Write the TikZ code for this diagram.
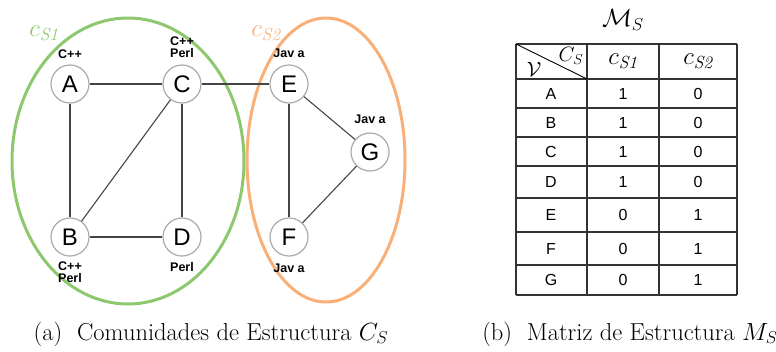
\documentclass[tikz,border=0pt]{standalone}
\usepackage{fontspec}
\newfontfamily\arial{Liberation Sans}
\definecolor{cgreen}{HTML}{8DC86E}
\definecolor{corange}{HTML}{F9B078}
\definecolor{cgrey}{HTML}{AAAAAA}
\definecolor{cedge}{HTML}{444444}
\begin{document}
\begin{tikzpicture}[x=1pt,y=-1pt,
  vert/.style={circle,draw=cgrey,line width=1.2pt,fill=white,minimum size=38pt,inner sep=0pt,font=\arial\fontsize{24}{24}\selectfont},
  lang/.style={font=\arial\bfseries\fontsize{12.5}{12.5}\selectfont,align=center,inner sep=0pt},
  edgeline/.style={draw=cedge,line width=1.1pt},
  tcell/.style={font=\arial\fontsize{16}{16}\selectfont,inner sep=0pt},
  tgrid/.style={draw=black!80,line width=1.3pt},
  captext/.style={font=\fontsize{24.5}{24.5}\selectfont,inner sep=0pt}]
\useasboundingbox (0,0) rectangle (776,351);
% ellipses
\draw[cgreen,line width=3pt] (128,161) ellipse [x radius=116, y radius=143];
\draw[corange,line width=3pt] (326,160) ellipse [x radius=79, y radius=142];
\node[text=cgreen,font=\fontsize{25}{25}\selectfont] (l1) at (44,33) {$c_{\mathit{S1}}$};
\node[text=corange,font=\fontsize{25}{25}\selectfont] (l2) at (266,33) {$c_{\mathit{S2}}$};
% vertices
\node[vert] (A) at (70,84) {A};
\node[vert] (C) at (182,84) {C};
\node[vert] (E) at (289,84) {E};
\node[vert] (G) at (370,152) {G};
\node[vert] (B) at (70,237) {B};
\node[vert] (D) at (182,237) {D};
\node[vert] (F) at (289,237) {F};
\draw[edgeline] (A) -- (C);
\draw[edgeline] (C) -- (E);
\draw[edgeline] (A) -- (B);
\draw[edgeline] (C) -- (B);
\draw[edgeline] (C) -- (D);
\draw[edgeline] (B) -- (D);
\draw[edgeline] (E) -- (F);
\draw[edgeline] (E) -- (G);
\draw[edgeline] (G) -- (F);
% labels
\node[lang] (la) at (70,54) {C++};
\node[lang] (lc) at (182,47) {C++\\Perl};
\node[lang] (le) at (289,53) {Jav a};
\node[lang] (lg) at (370,119) {Jav a};
\node[lang] (lb) at (70,272) {C++\\Perl};
\node[lang] (ld) at (182,267) {Perl};
\node[lang] (lf) at (289,268) {Jav a};
\node[captext] (capa) at (211,334) {(a)\ \ Comunidades de Estructura $C_S$};
% table
\node[font=\fontsize{27}{27}\selectfont] (ms) at (623,20) {$\mathcal{M}_S$};
\foreach \y in {44,79,108,137,166,198,232,265,295} \draw[tgrid] (516,\y) -- (737,\y);
\foreach \x in {516,587,659,737} \draw[tgrid] (\x,44) -- (\x,295);
\draw[black,line width=0.9pt] (516,44) -- (587,79);
\node[font=\fontsize{21}{21}\selectfont] (hcs) at (571,56) {$C_S$};
\node[font=\fontsize{21}{21}\selectfont] (hv) at (534,69) {$\mathcal{V}$};
\node[font=\fontsize{25}{25}\selectfont] (h1) at (623,61) {$c_{\mathit{S1}}$};
\node[font=\fontsize{25}{25}\selectfont] (h2) at (698,61) {$c_{\mathit{S2}}$};
\foreach \n/\a/\b [count=\i] in {A/1/0,B/1/0,C/1/0,D/1/0,E/0/1,F/0/1,G/0/1}{
  \pgfmathsetmacro{\yy}{{79,108,137,166,198,232,265,295}[\i-1]}
  \pgfmathsetmacro{\yz}{{79,108,137,166,198,232,265,295}[\i]}
  \pgfmathsetmacro{\ym}{(\yy+\yz)/2}
  \node[tcell] (r\i a) at (551,\ym) {\n};
  \node[tcell] (r\i b) at (623,\ym) {\a};
  \node[tcell] (r\i c) at (698,\ym) {\b};
}
\node[captext] (capb) at (630,334) {(b)\ \ Matriz de Estructura $M_S$};
\end{tikzpicture}
\end{document}
